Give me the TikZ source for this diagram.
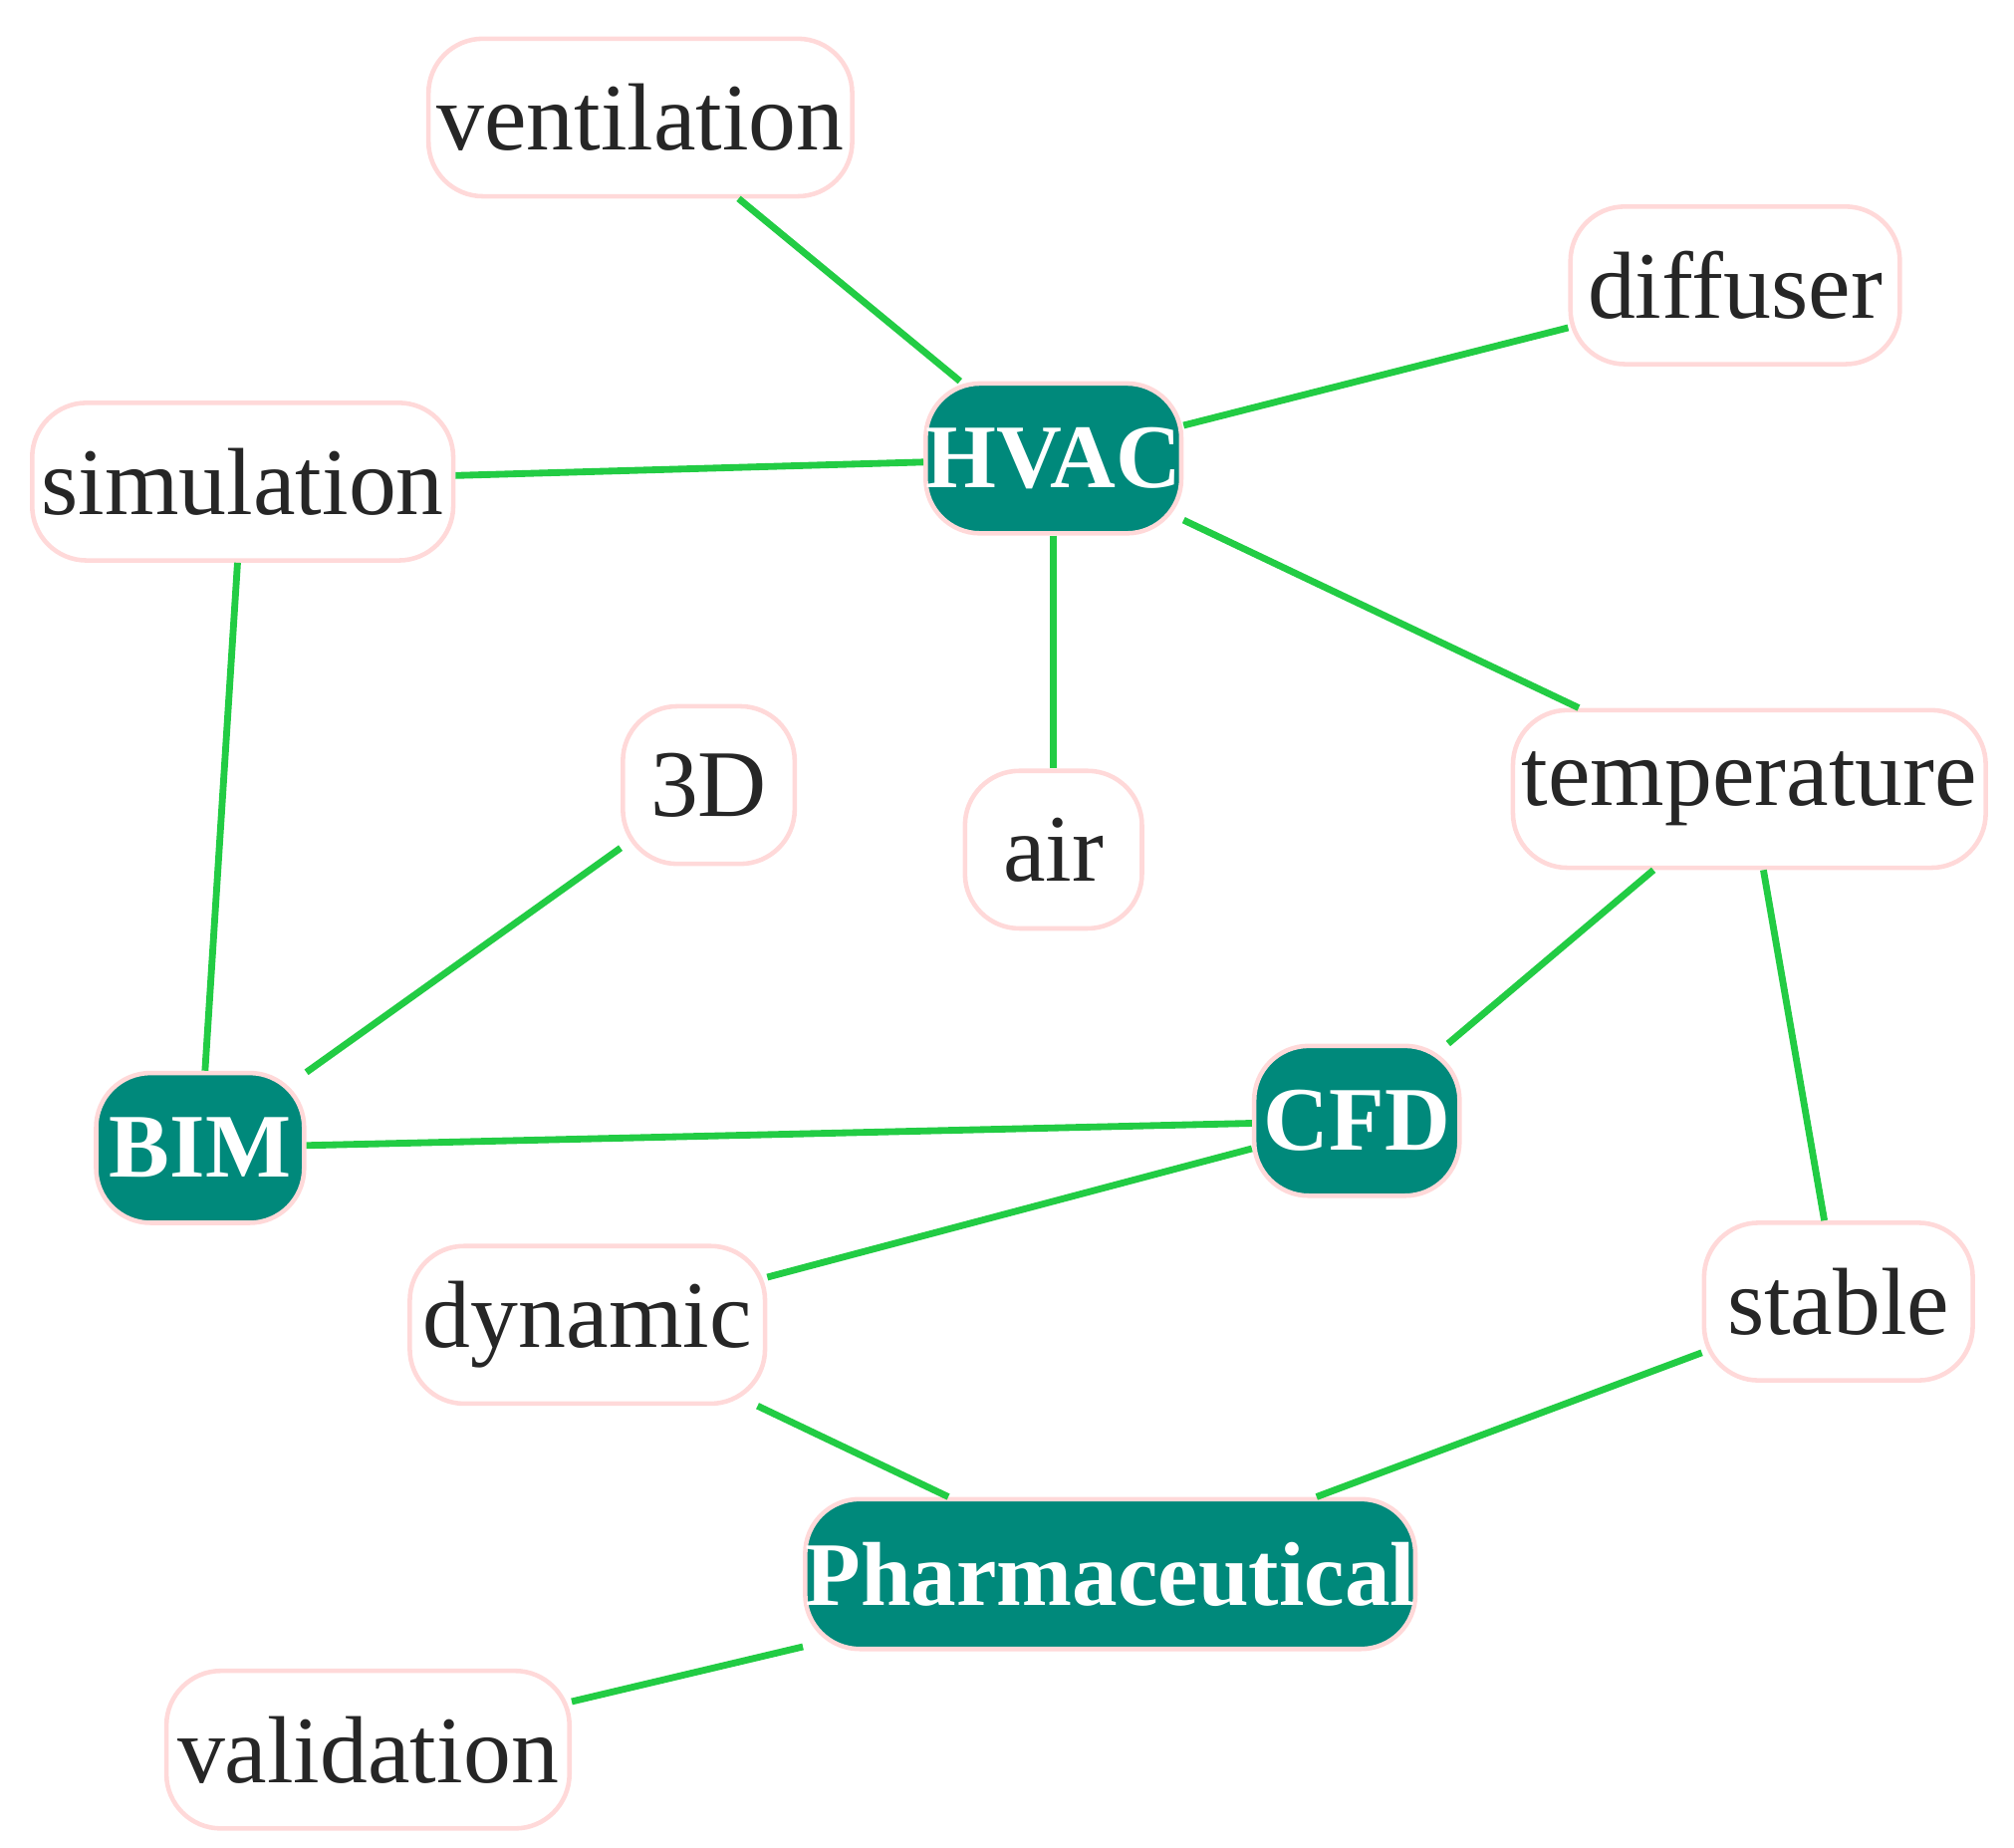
\documentclass[tikz,border=0pt]{standalone}
\usepackage{fontspec}
\setmainfont{Liberation Serif}
\begin{document}
\begin{tikzpicture}[x=0.01cm,y=-0.01cm,
  base/.style={rounded corners=12pt,draw=pink!60!white,line width=1pt,minimum height=1.22cm,font=\fontsize{21}{24}\selectfont,inner sep=0pt},
  w/.style={base,fill=white,text=black!85},
  k/.style={base,fill=teal!85!black,fill=hub,text=white,font=\fontsize{20}{24}\selectfont\bfseries,minimum height=1.16cm},
  e/.style={draw=edge,line width=1.5pt}]
\definecolor{hub}{HTML}{00897B}
\definecolor{edge}{HTML}{22CC44}
\useasboundingbox (0,0) rectangle (1560,1431);
\node[w,minimum width=3.28cm] (ven) at (496,91) {ventilation};
\node[w,minimum width=2.55cm] (dif) at (1344,221) {diffuser};
\node[k,minimum width=1.96cm] (hvac) at (816,355) {HVAC};
\node[w,minimum width=3.26cm] (sim) at (188,373) {simulation};
\node[w,minimum width=1.33cm] (d3) at (549,608) {3D};
\node[w,minimum width=1.37cm] (air) at (816,658) {air};
\node[w,minimum width=3.66cm] (tem) at (1355,611) {temperature};
\node[k,minimum width=1.61cm] (bim) at (155,889) {BIM};
\node[k,minimum width=1.59cm] (cfd) at (1051,868) {CFD};
\node[w,minimum width=2.75cm] (dyn) at (455,1026) {dynamic};
\node[w,minimum width=2.08cm] (sta) at (1424,1008) {stable};
\node[k,minimum width=4.49cm] (ph) at (860,1219) {Pharmaceutical};
\node[w,minimum width=3.12cm] (val) at (285,1355) {validation};
\begin{scope}[on background layer/.style={}]
\draw[e] (ven) -- (hvac);
\draw[e] (dif) -- (hvac);
\draw[e] (sim) -- (hvac);
\draw[e] (hvac) -- (air);
\draw[e] (hvac) -- (tem);
\draw[e] (sim) -- (bim);
\draw[e] (d3) -- (bim);
\draw[e] (bim) -- (cfd);
\draw[e] (tem) -- (cfd);
\draw[e] (tem) -- (sta);
\draw[e] (cfd) -- (dyn);
\draw[e] (dyn) -- (ph);
\draw[e] (sta) -- (ph);
\draw[e] (ph) -- (val);
\end{scope}
\end{tikzpicture}
\end{document}
